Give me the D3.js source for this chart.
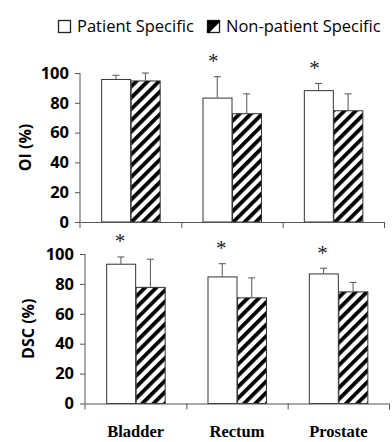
<!DOCTYPE html>
<html><head><meta charset="utf-8">
<script src="https://cdn.jsdelivr.net/npm/d3@7"></script>
<style>
html,body{margin:0;padding:0;background:#fff;}
svg{display:block;}
</style></head>
<body>
<svg id="c" width="392" height="442"></svg>
<script>
const categories = ["Bladder", "Rectum", "Prostate"];
const seriesNames = ["Patient Specific", "Non-patient Specific"];
const yTicks = [0, 20, 40, 60, 80, 100];

// OI (%) panel
const oiPatient = [96, 83.5, 88.5];
const oiPatientErr = [2.5, 14, 4.5];
const oiNonPatient = [95, 73, 75];
const oiNonPatientErr = [5, 13, 11];
const oiStars = [false, true, true];

// DSC (%) panel
const dscPatient = [93.5, 85, 87];
const dscPatientErr = [4.5, 8.5, 3.5];
const dscNonPatient = [78, 71, 75];
const dscNonPatientErr = [18.5, 13, 6];
const dscStars = [true, true, true];

const svg = d3.select("#c");
const sans = "'Open Sans', 'Liberation Sans', sans-serif";
const serif = "'Liberation Serif', 'Times New Roman', serif";
const axisColor = "#555";

// hatch pattern
const defs = svg.append("defs");
const pat = defs.append("pattern").attr("id", "hatch")
  .attr("patternUnits", "userSpaceOnUse")
  .attr("width", 8).attr("height", 8)
  .attr("patternTransform", "rotate(45)");
pat.append("rect").attr("width", 8).attr("height", 8).attr("fill", "#fff");
pat.append("rect").attr("x", 0).attr("width", 3.8).attr("height", 8).attr("fill", "#000");

function panel(cfg) {
  const g = svg.append("g");
  const x = d3.scaleBand().domain(categories).range([cfg.x0, cfg.x1]).paddingInner(0).paddingOuter(0);
  const xs = d3.scaleBand().domain(seriesNames).range([0, x.bandwidth()]).paddingInner(0).paddingOuter(0.717);
  const y = d3.scaleLinear().domain([0, 100]).range([cfg.yBottom, cfg.yTop]);

  const rows = categories.map((c, i) => ({
    cat: c,
    vals: [
      { s: seriesNames[0], v: cfg.pat[i], e: cfg.patErr[i] },
      { s: seriesNames[1], v: cfg.non[i], e: cfg.nonErr[i] }
    ],
    star: cfg.stars[i]
  }));

  // error bars (drawn behind bars)
  const eb = g.append("g");
  rows.forEach(r => {
    r.vals.forEach(d => {
      const cx = x(r.cat) + xs(d.s) + xs.bandwidth() / 2;
      eb.append("line").attr("x1", cx).attr("x2", cx)
        .attr("y1", y(d.v)).attr("y2", y(d.v + d.e))
        .attr("stroke", axisColor).attr("stroke-width", 1);
      eb.append("line").attr("x1", cx - 3.5).attr("x2", cx + 3.5)
        .attr("y1", y(d.v + d.e)).attr("y2", y(d.v + d.e))
        .attr("stroke", axisColor).attr("stroke-width", 1);
    });
  });

  // bars
  rows.forEach(r => {
    g.selectAll(null).data(r.vals).enter().append("rect")
      .attr("x", d => x(r.cat) + xs(d.s) + 0.5)
      .attr("y", d => y(d.v) + 0.5)
      .attr("width", xs.bandwidth() - 0.5)
      .attr("height", d => y(0) - y(d.v) - 0.5)
      .attr("fill", (d, j) => j === 0 ? "#fff" : "url(#hatch)")
      .attr("stroke", "#333").attr("stroke-width", 1);
  });

  // asterisks
  rows.forEach(r => {
    if (!r.star) return;
    const d = r.vals[0];
    const cx = x(r.cat) + xs(d.s) + xs.bandwidth() / 2 + cfg.starDx;
    const cy = y(d.v + d.e) - 18;
    g.append("text").attr("x", cx).attr("y", cy + 9.5)
      .attr("text-anchor", "middle")
      .attr("font-family", serif).attr("font-size", 21)
      .attr("fill", "#222").text("*");
  });

  // y axis
  const ya = g.append("g").attr("transform", `translate(${cfg.x0},0)`)
    .call(d3.axisLeft(y).tickValues(yTicks).tickSize(5).tickPadding(6));
  ya.select(".domain").remove();
  ya.selectAll(".tick line").attr("stroke", axisColor);
  ya.selectAll(".tick text").attr("font-family", sans).attr("font-weight", "bold")
    .attr("font-size", 16.5).attr("fill", "#000");
  g.append("line").attr("x1", cfg.x0).attr("x2", cfg.x0)
    .attr("y1", y(100)).attr("y2", y(0) + 6)
    .attr("stroke", axisColor).attr("stroke-width", 1);

  // x axis with boundary ticks
  const xb = d3.scaleLinear().domain([0, categories.length]).range([cfg.x0, cfg.x1]);
  const xa = g.append("g").attr("transform", `translate(0,${y(0)})`)
    .call(d3.axisBottom(xb).tickValues(d3.range(1, categories.length + 1)).tickSize(6).tickSizeOuter(0).tickFormat(""));
  xa.select(".domain").attr("stroke", axisColor);
  xa.selectAll(".tick line").attr("stroke", axisColor);

  // y title
  g.append("text")
    .attr("transform", `translate(${cfg.titleX},${(y(0) + y(100)) / 2}) rotate(-90)`)
    .attr("text-anchor", "middle").attr("dy", "0.35em")
    .attr("font-family", sans).attr("font-weight", "bold").attr("font-size", 16)
    .attr("fill", "#000").text(cfg.title);

  if (cfg.labels) {
    const la = g.append("g").attr("transform", `translate(0,${y(0)})`)
      .call(d3.axisBottom(x).tickSize(0).tickPadding(0));
    la.select(".domain").remove();
    la.selectAll(".tick text").attr("font-family", serif).attr("font-weight", "bold")
      .attr("font-size", 16.5).attr("fill", "#000")
      .attr("dy", null).attr("y", 437 - y(0));
  }
}

panel({ x0: 80, x1: 384, yTop: 73, yBottom: 222, pat: oiPatient, patErr: oiPatientErr,
  non: oiNonPatient, nonErr: oiNonPatientErr, stars: oiStars, title: "OI (%)", titleX: 25, starDx: -4, labels: false });
panel({ x0: 85, x1: 389, yTop: 254, yBottom: 403.5, pat: dscPatient, patErr: dscPatientErr,
  non: dscNonPatient, nonErr: dscNonPatientErr, stars: dscStars, title: "DSC (%)", titleX: 28, starDx: -1, labels: true });

// legend
const leg = svg.append("g");
const legItems = [
  { name: seriesNames[0], sx: 58.5, tx: 77 },
  { name: seriesNames[1], sx: 207.5, tx: 226 }
];
legItems.forEach((d, i) => {
  leg.append("rect").attr("x", d.sx).attr("y", 20.5).attr("width", 12).attr("height", 12)
    .attr("fill", "#fff").attr("stroke", "#222").attr("stroke-width", 1.3);
  if (i === 1) {
    leg.append("path")
      .attr("d", `M${d.sx},${20.5} L${d.sx + 12},${20.5} L${d.sx},${32.5} Z`)
      .attr("fill", "#000");
    leg.append("line").attr("x1", d.sx).attr("y1", 32.5).attr("x2", d.sx + 12).attr("y2", 20.5)
      .attr("stroke", "#000").attr("stroke-width", 2.5);
  }
  leg.append("text").attr("x", d.tx).attr("y", 32)
    .attr("font-family", sans).attr("font-size", 16.5).attr("fill", "#000").text(d.name);
});
</script>
</body></html>
